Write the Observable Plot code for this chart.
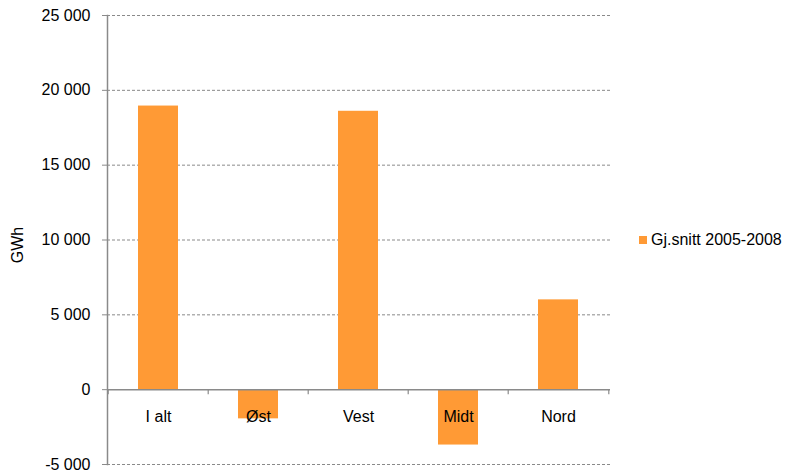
<!DOCTYPE html>
<html><head><meta charset="utf-8">
<script src="https://cdn.jsdelivr.net/npm/d3@7"></script>
<script src="https://cdn.jsdelivr.net/npm/@observablehq/plot@0.6"></script>
<style>
body{margin:0;background:#fff;font-family:"Liberation Sans",Arial,sans-serif;color:#000}
#wrap{position:relative;width:788px;height:475px}
#legend{position:absolute;left:639px;top:231px;font-size:16px;display:flex;align-items:center;white-space:nowrap}
#legend .sw{width:8px;height:8px;background:#ff9a35;margin-right:4px}
#ylab{position:absolute;left:18px;top:245px;font-size:16px;transform:translate(-50%,-50%) rotate(-90deg);white-space:nowrap}
</style></head><body><div id="wrap"></div>
<script>
const categories = ["I alt","Øst","Vest","Midt","Nord"];
const values = [18950,-1950,18600,-3700,6000];
const yTicks = [-5000,0,5000,10000,15000,20000,25000];
const seriesName = "Gj.snitt 2005-2008";
const yLabel = "GWh";

const data = categories.map((c,i)=>({cat:c, v:values[i]}));
const fmt = d3.formatLocale({decimal:",", thousands:" ", grouping:[3], currency:["",""], minus:"-"}).format(",d");

const W=788,H=475,ml=107,mr=178,mt=15,mb=11;
const step=(W-ml-mr)/categories.length;
const grey="#8a8a8a";

const chart = Plot.plot({
  width:W, height:H, marginLeft:ml, marginRight:mr, marginTop:mt, marginBottom:mb,
  style:{fontFamily:'"Liberation Sans",Arial,sans-serif', fontSize:"16px", color:"#000", background:"#fff"},
  x:{domain:categories, paddingInner:0.6, paddingOuter:0.3, axis:null},
  y:{domain:[-5000,25000], axis:null},
  marks:[
    Plot.gridY(yTicks.filter(d=>d!==0), {stroke:grey, strokeOpacity:1, strokeDasharray:"3,2"}),
    Plot.barY(data, {x:"cat", y:"v", fill:"#ff9a35"}),
    Plot.ruleY([0], {stroke:grey, strokeWidth:1.5}),
    Plot.ruleX(categories, {x:d=>d, y1:0, y2:-333, dx:-step/2, stroke:grey, strokeWidth:1.2}),
    Plot.ruleX([categories[categories.length-1]], {x:d=>d, y1:0, y2:-333, dx:step/2, stroke:grey, strokeWidth:1.2}),
    Plot.frame({anchor:"left", stroke:grey, strokeWidth:1.5}),
    Plot.axisY({ticks:yTicks, tickFormat:fmt, tickSize:5, tickPadding:12, stroke:grey, label:null, fontSize:16}),
    Plot.text(data, {x:"cat", y:0, dy:27, text:"cat", fontSize:16, fill:"#000"})
  ]
});
const wrap=document.getElementById("wrap");
wrap.appendChild(chart);
const lg=document.createElement("div");lg.id="legend";
lg.innerHTML='<div class="sw"></div><span></span>';lg.querySelector("span").textContent=seriesName;
wrap.appendChild(lg);
const yl=document.createElement("div");yl.id="ylab";yl.textContent=yLabel;wrap.appendChild(yl);
</script></body></html>
